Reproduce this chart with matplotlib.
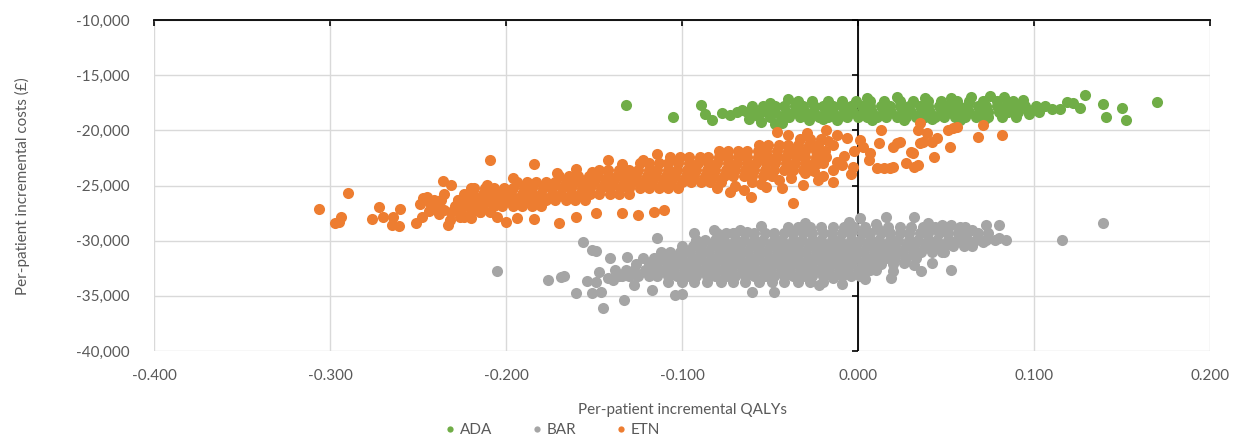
import numpy as np
import matplotlib
matplotlib.use("Agg")
import matplotlib.pyplot as plt
from matplotlib.lines import Line2D
from matplotlib.ticker import FuncFormatter

plt.rcParams['font.family'] = ['Lato', 'DejaVu Sans']

series = ["ADA", "BAR", "ETN"]
colors = ["#70AD47", "#A5A5A5", "#ED7D31"]

x_ticks = [-0.4, -0.3, -0.2, -0.1, 0.0, 0.1, 0.2]
y_ticks = [-10000, -15000, -20000, -25000, -30000, -35000, -40000]

x_title = "Per-patient incremental QALYs"
y_title = "Per-patient incremental costs (£)"

# ---- ADA: dense core rows (cost, QALYs x1000) + individual points (QALYs x1000, cost)
ada_rows = [
    (-17350, [-34, -26, -17, -9, -1, 7, 15, 24, 31, 40, 47, 56, 63, 71, 79, 88]),
    (-17800, [-60, -54, -47, -42, -36, -31, -25, -20, -14, -9, -4, 2, 7, 13, 18, 24, 29, 35, 40, 46,
              51, 57, 62, 68, 73, 79, 84, 90, 95, 101]),
    (-18300, [-69, -63, -58, -52, -47, -41, -36, -30, -25, -19, -14, -8, -3, 3, 8, 14, 19, 25, 30, 36,
              41, 47, 52, 58, 63, 69, 74, 80, 85, 91, 97, 103]),
    (-18800, [-50, -44, -39, -33, -28, -22, -17, -11, -6, 0, 5, 11, 16, 22, 27, 33, 38, 44, 49, 55,
              61, 67, 74, 82, 90]),
]
ada_points = [
    (-132, -17700), (-105, -18790), (-89, -17700), (-87, -18500), (-83, -19060), (-77, -18450),
    (-73, -18650), (-66, -18150), (-62, -18950), (-57, -18700), (-55, -19200), (-47, -19400),
    (-43, -19300), (-40, -17150), (-50, -17520), (22, -16950), (5, -17100), (38, -17100),
    (53, -17050), (64, -17000), (75, -16900), (83, -17000), (94, -17250), (-28, -19050),
    (-12, -19100), (-20, -19000), (8, -19050), (26, -19100), (42, -19000), (58, -19050),
    (72, -19000), (97, -18550), (106, -17750), (110, -18100), (115, -18060), (119, -17430),
    (122, -17520), (126, -17970), (129, -16800), (139, -17610), (141, -18790), (150, -17970),
    (152, -19060), (170, -17430),
]

# ---- BAR
bar_rows = [
    (-28800, [-40, -34, -27, -21, -14, -8, -2, 4, 11, 17, 24, 30, 37, 44, 50]),
    (-29350, [-75, -70, -64, -59, -53, -48, -42, -37, -31, -26, -20, -15, -9, -4, 2, 7, 13, 18, 24, 29,
              35, 40, 46, 51, 57, 62, 68, 74]),
    (-29900, [-92, -87, -81, -76, -70, -65, -59, -54, -48, -43, -37, -32, -26, -21, -15, -10, -4, 1, 7,
              12, 18, 23, 29, 34, 40, 45, 51, 56, 62, 67, 73, 78, 84]),
    (-30450, [-100, -94, -89, -83, -78, -72, -67, -61, -56, -50, -45, -39, -34, -28, -23, -17, -12, -6,
              -1, 5, 10, 16, 21, 27, 32, 38, 43, 49, 54, 60, 65]),
    (-31000, [-112, -107, -101, -96, -90, -85, -79, -74, -68, -63, -57, -52, -46, -41, -35, -30, -24,
              -19, -13, -8, -2, 3, 9, 14, 20, 25, 31, 36, 42, 48]),
    (-31550, [-122, -116, -111, -105, -100, -94, -89, -83, -78, -72, -67, -61, -56, -50, -45, -39, -34,
              -28, -23, -17, -12, -6, -1, 5, 10, 16, 21, 27, 33]),
    (-32100, [-126, -119, -114, -108, -103, -97, -92, -86, -81, -75, -70, -64, -59, -53, -48, -42, -37,
              -31, -26, -20, -15, -9, -4, 2, 7, 13, 20]),
    (-32650, [-138, -132, -127, -121, -116, -110, -105, -99, -94, -88, -83, -77, -72, -66, -61, -55, -50,
              -44, -39, -33, -28, -22, -17, -11, -6, 0, 5, 10]),
    (-33200, [-136, -130, -125, -119, -114, -108, -103, -97, -92, -86, -81, -75, -70, -64, -59, -53, -48,
              -42, -37, -31, -26, -20, -15, -9, -4, 1]),
    (-33750, [-108, -100, -93, -86, -78, -71, -64, -56, -49, -42, -34, -27, -20]),
]
bar_points = [
    (-205, -32740), (-176, -33550), (-169, -33280), (-167, -33190), (-160, -34730), (-151, -34730),
    (-146, -34640), (-145, -36090), (-133, -35360), (-156, -30110), (-151, -30830), (-149, -30920),
    (-141, -31560), (-131, -31470), (-154, -33640), (-149, -33730), (-147, -32830), (-142, -33370),
    (-139, -33550), (-134, -33190), (-127, -34000), (-117, -34460), (-104, -34910), (-100, -34820),
    (-114, -29750), (-93, -29290), (-82, -29020), (-80, -29290), (-71, -29290), (-67, -29020),
    (-63, -29200), (-60, -34640), (-48, -34640), (-22, -34000), (-14, -33370), (-9, -33900),
    (4, -33460), (1, -27930), (16, -27840), (32, -27840), (20, -32740), (26, -32010), (36, -32740),
    (42, -32000), (53, -32650), (32, -32200), (19, -33370), (7, -32650), (49, -31010), (52, -30110),
    (61, -28750), (61, -29840), (48, -28570), (53, -28570), (65, -29020), (73, -28570), (80, -28570),
    (71, -30100), (80, -29750), (58, -28750), (116, -29930), (139, -28400), (-55, -28700),
    (-30, -28400), (-5, -28300), (10, -28500), (40, -28400),
]

# ---- ETN
etn_rows = [
    (-20800, [-33, -27, -21]),
    (-21350, [-56, -51, -45, -40, -34, -28, -23]),
    (-21900, [-79, -74, -68, -63, -57, -52, -46, -40, -35, -30, -24, -19]),
    (-22450, [-101, -96, -90, -85, -79, -74, -68, -63, -57, -51, -46, -41, -35, -30, -24, -19]),
    (-23000, [-124, -119, -113, -108, -102, -96, -91, -85, -80, -74, -69, -63, -58, -52, -47, -41, -36,
              -30, -25, -20]),
    (-23550, [-147, -142, -136, -130, -125, -119, -114, -108, -103, -97, -92, -86, -81, -75, -70, -64,
              -59, -53, -48, -42, -37, -31, -26]),
    (-24100, [-170, -164, -159, -153, -148, -142, -137, -131, -126, -120, -115, -109, -104, -98, -93, -87,
              -82, -76, -71, -65, -60, -54, -49]),
    (-24650, [-194, -188, -183, -177, -172, -166, -161, -155, -150, -144, -139, -133, -128, -122, -117,
              -111, -106, -100, -95, -89, -84, -78]),
    (-25200, [-218, -212, -207, -201, -196, -190, -185, -179, -174, -168, -163, -157, -152, -146, -141,
              -135, -130, -124, -119, -113, -108, -102]),
    (-25750, [-224, -219, -213, -208, -202, -197, -191, -185, -180, -174, -169, -163, -158, -152, -147,
              -141, -136, -130]),
    (-26300, [-227, -221, -216, -210, -205, -199, -194, -188, -183, -177, -172, -166, -161, -155]),
    (-26850, [-229, -224, -218, -213, -207, -202, -196, -191, -185, -180]),
    (-27400, [-231, -226, -220, -215, -209]),
]
etn_points = [
    (-306, -27100), (-290, -25670), (-295, -28300), (-294, -27850), (-297, -28400), (-272, -26940),
    (-270, -27850), (-276, -28030), (-264, -27850), (-260, -27120), (-265, -28570), (-261, -28660),
    (-251, -28390), (-248, -27850), (-245, -26030), (-236, -24580), (-231, -24950), (-227, -26300),
    (-220, -25220), (-209, -22680), (-241, -26300), (-239, -26760), (-235, -27210), (-232, -28120),
    (-233, -28570), (-224, -27850), (-220, -27940), (-215, -27390), (-211, -24950), (-200, -28300),
    (-194, -27940), (-184, -28030), (-184, -23040), (-170, -28390), (-142, -22680), (-125, -27660),
    (-149, -27480), (-247, -26100), (-243, -26600), (-240, -27100), (-237, -26300), (-238, -27600),
    (-244, -27300), (-249, -26700), (-235, -25800), (-171, -23860), (-160, -23500), (-151, -23770),
    (-134, -23040), (-122, -22680), (-114, -22140), (-107, -22410), (-196, -24310), (-116, -27390),
    (-110, -27210), (-134, -27480), (-160, -27850), (-205, -27850), (-226, -27850), (-61, -26030),
    (-37, -26580), (-43, -25220), (-31, -24950), (-80, -25220), (-73, -25580), (-65, -25400),
    (-52, -25130), (-14, -24700), (-23, -24500), (-70, -25000), (-60, -24700), (-55, -24900),
    (-45, -24500), (-38, -24300), (-30, -23900), (-25, -23700),
    (-46, -20150), (-40, -20400), (-29, -20240), (-18, -19960), (-12, -20400), (-6, -20700),
    (1, -20870), (3, -21500), (7, -22050), (12, -21140), (20, -21500), (24, -21050), (31, -22050),
    (37, -21050), (39, -20240), (45, -20700), (-18, -22400), (-23, -22950), (-14, -23600),
    (-9, -23100), (-14, -21300), (-3, -23300), (11, -23400), (18, -23400), (27, -22950), (34, -23100),
    (35, -21140), (43, -22400), (34, -19960), (52, -21500), (68, -20600), (82, -20400), (71, -19500),
    (54, -19800), (56, -19700), (51, -19960), (42, -21050), (35, -19300), (30, -21950), (22, -21140),
    (15, -23400), (20, -23300), (32, -23300), (13, -19960), (-2, -21900), (-8, -22300), (-12, -22900),
    (-4, -24000), (6, -22700), (-17, -21000), (-20, -24100),
]


def expand(rows, points):
    q, c = [], []
    for cost, qs in rows:
        q += [v / 1000 for v in qs]
        c += [cost] * len(qs)
    for qv, cv in points:
        q.append(qv / 1000)
        c.append(cv)
    return np.array(q), np.array(c)


data = {
    "ADA": expand(ada_rows, ada_points),
    "BAR": expand(bar_rows, bar_points),
    "ETN": expand(etn_rows, etn_points),
}

W, H = 1236, 438
fig = plt.figure(figsize=(W / 100, H / 100), dpi=100)
ax = fig.add_axes([154 / W, 1 - 351 / H, (1210 - 154) / W, (351 - 20) / H])

text_col = "#595959"
grid_col = "#D9D9D9"

for name, col in zip(series, colors):
    q, c = data[name]
    ax.scatter(q, c, s=64, color=col, linewidths=0, zorder=3)

ax.set_xlim(-0.4, 0.2)
ax.set_ylim(-40000, -10000)
ax.set_xticks(x_ticks)
ax.set_yticks(y_ticks)
ax.xaxis.set_major_formatter(FuncFormatter(lambda v, p: f"{v:.3f}"))
ax.yaxis.set_major_formatter(FuncFormatter(lambda v, p: f"{v:,.0f}"))

for s in ax.spines.values():
    s.set_visible(False)
ax.spines['top'].set_visible(True)
ax.spines['top'].set_color('black')
ax.spines['top'].set_linewidth(1.3)

ax.grid(True, color=grid_col, linewidth=1.0, zorder=0)
ax.set_axisbelow(True)
ax.axvline(0, color='black', linewidth=1.3, zorder=2)
ax.plot(np.zeros(len(y_ticks)), y_ticks, linestyle='none', marker=0,
        markersize=4, color='black', markeredgewidth=1.2, zorder=2, clip_on=False)

ax.tick_params(axis='x', top=True, bottom=False, labeltop=False, labelbottom=True,
               direction='in', length=4, width=1.2, color='black', pad=13,
               labelsize=11, labelcolor=text_col)
ax.tick_params(axis='y', left=False, right=False, labelleft=True, pad=14,
               labelsize=11, labelcolor=text_col)
ax.xaxis.set_ticks_position('top')
ax.xaxis.set_tick_params(labelbottom=True, labeltop=False)

fig.text(682 / W, 1 - 410 / H, x_title, ha='center', va='center', fontsize=11, color=text_col)
fig.text(22 / W, 1 - 186 / H, y_title, ha='center', va='center', rotation=90,
         fontsize=11, color=text_col)

handles = [Line2D([], [], linestyle='none', marker='o', markersize=4.5, color=c,
                  markeredgewidth=0) for c in colors]
fig.legend(handles, series, loc='center', bbox_to_anchor=(553 / W, 1 - 430 / H), ncol=3,
           frameon=False, fontsize=11, labelcolor=text_col, handlelength=0.6,
           handletextpad=0.35, columnspacing=2.6, borderaxespad=0, borderpad=0)

fig.savefig("out.png", dpi=100)
